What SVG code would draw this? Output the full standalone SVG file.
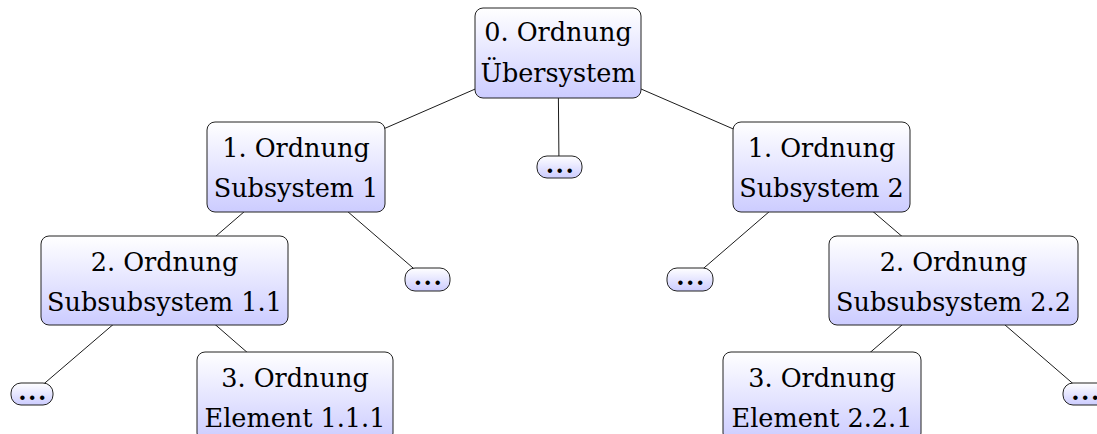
<svg xmlns="http://www.w3.org/2000/svg" width="1097" height="434" viewBox="0 0 1097 434">
  <defs>
    <linearGradient id="fillGrad" x1="0" y1="0" x2="0" y2="1">
      <stop offset="0" stop-color="#ffffff"/>
      <stop offset="1" stop-color="#ccccff"/>
    </linearGradient>
    <style>
      .box { fill: url(#fillGrad); stroke: #222; stroke-width: 1; }
      .lbl { font-family: "DejaVu Serif", "Liberation Serif", serif; font-size: 25.5px; fill: #000; text-anchor: middle; }
      .dots { font-family: "DejaVu Serif", "Liberation Serif", serif; font-size: 24px; font-weight: bold; letter-spacing: 1.5px; fill: #000; text-anchor: middle; }
      .edge { stroke: #000; stroke-width: 0.9; fill: none; }
    </style>
  </defs>
  <rect width="1097" height="434" fill="#ffffff"/>

  <!-- tree edges, center to center; nodes are painted over them -->
  <g id="connectors" class="edge">
    <line x1="558" y1="53" x2="296" y2="167"/>
    <line x1="558" y1="53" x2="559" y2="167"/>
    <line x1="558" y1="53" x2="821" y2="167"/>
    <line x1="296" y1="167" x2="164.5" y2="280.5"/>
    <line x1="296" y1="167" x2="427" y2="280"/>
    <line x1="821" y1="167" x2="690" y2="280"/>
    <line x1="821" y1="167" x2="953.5" y2="280.5"/>
    <line x1="164.5" y1="280.5" x2="32" y2="394"/>
    <line x1="164.5" y1="280.5" x2="295" y2="394"/>
    <line x1="953.5" y1="280.5" x2="822" y2="394"/>
    <line x1="953.5" y1="280.5" x2="1085" y2="394"/>
  </g>

  <!-- level 0 -->
  <g id="n-root">
    <rect class="box" x="475" y="8" width="166" height="90" rx="8"/>
    <text class="lbl" x="558" y="41">0. Ordnung</text>
    <text class="lbl" x="558" y="82">Übersystem</text>
  </g>

  <!-- level 1 -->
  <g id="n-sub1">
    <rect class="box" x="207" y="122" width="178" height="90" rx="8"/>
    <text class="lbl" x="296" y="157">1. Ordnung</text>
    <text class="lbl" x="296" y="197">Subsystem 1</text>
  </g>
  <g id="n-dots-mid">
    <rect class="box" x="537" y="156" width="45" height="22" rx="10"/>
    <text class="dots" x="560.5" y="173">...</text>
  </g>
  <g id="n-sub2">
    <rect class="box" x="733" y="122" width="177" height="90" rx="8"/>
    <text class="lbl" x="821.5" y="157">1. Ordnung</text>
    <text class="lbl" x="821.5" y="197">Subsystem 2</text>
  </g>

  <!-- level 2 -->
  <g id="n-subsub11">
    <rect class="box" x="41" y="236" width="247" height="89" rx="8"/>
    <text class="lbl" x="164.5" y="271">2. Ordnung</text>
    <text class="lbl" x="164.5" y="311">Subsubsystem 1.1</text>
  </g>
  <g id="n-dots-sub1">
    <rect class="box" x="405" y="268" width="45" height="23" rx="10"/>
    <text class="dots" x="428.5" y="285">...</text>
  </g>
  <g id="n-dots-sub2">
    <rect class="box" x="667" y="268" width="46" height="23" rx="10"/>
    <text class="dots" x="691" y="285">...</text>
  </g>
  <g id="n-subsub22">
    <rect class="box" x="829" y="236" width="249" height="89" rx="8"/>
    <text class="lbl" x="953.5" y="271">2. Ordnung</text>
    <text class="lbl" x="953.5" y="311">Subsubsystem 2.2</text>
  </g>

  <!-- level 3 -->
  <g id="n-dots-left">
    <rect class="box" x="11" y="383" width="42" height="22" rx="10"/>
    <text class="dots" x="33" y="400">...</text>
  </g>
  <g id="n-elem111">
    <rect class="box" x="197" y="352" width="196" height="89" rx="8"/>
    <text class="lbl" x="295" y="387">3. Ordnung</text>
    <text class="lbl" x="295" y="427">Element 1.1.1</text>
  </g>
  <g id="n-elem221">
    <rect class="box" x="723" y="352" width="198" height="89" rx="8"/>
    <text class="lbl" x="822" y="387">3. Ordnung</text>
    <text class="lbl" x="822" y="427">Element 2.2.1</text>
  </g>
  <g id="n-dots-right">
    <rect class="box" x="1063" y="383" width="44" height="22" rx="10"/>
    <text class="dots" x="1086" y="400">...</text>
  </g>
</svg>
